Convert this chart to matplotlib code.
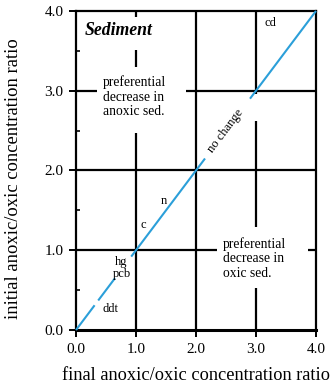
"""
Anoxic/oxic concentration ratio in sediment: initial vs final, with the 1:1 line.
"""

import matplotlib.pyplot as plt

plt.rcParams["font.family"] = ["Liberation Serif", "DejaVu Serif"]

TICKS = [0.0, 1.0, 2.0, 3.0, 4.0]
TICK_LABELS = ["0.0", "1.0", "2.0", "3.0", "4.0"]
MINOR_Y = [0.5, 1.5, 2.5, 3.5]

# grid lines are broken where the labels sit: (level, start, end)
H_SEGMENTS = [(3.0, 0.0, 0.35), (3.0, 1.83, 4.0),
              (2.0, 0.0, 4.0),
              (1.0, 0.0, 2.35), (1.0, 3.87, 4.0)]
V_SEGMENTS = [(1.0, 0.0, 2.47), (1.0, 3.30, 3.51), (1.0, 3.93, 4.0),
              (2.0, 0.0, 4.0),
              (3.0, 0.0, 0.53), (3.0, 1.29, 2.62), (3.0, 2.96, 4.0)]

# 1:1 "no change" line, gaps left for the element labels
DIAG_SEGMENTS = [(0.0, 0.31), (0.37, 0.65), (0.92, 2.15), (2.90, 4.0)]

ELEMENTS = ["ddt", "pcb", "hg", "c", "n", "cd"]
ELEMENT_X = [0.57, 0.77, 0.76, 1.12, 1.46, 3.24]
ELEMENT_Y = [0.26, 0.70, 0.85, 1.32, 1.62, 3.85]

BLUE = "#2b9fd9"


def main():
    fig = plt.figure(figsize=(3.31, 3.91), dpi=100)
    ax = fig.add_axes([0.2296, 0.156, 0.7251, 0.816])
    ax.set_xlim(0, 4)
    ax.set_ylim(0, 4)

    for y, x0, x1 in H_SEGMENTS:
        ax.plot([x0, x1], [y, y], color="black", lw=1.6, solid_capstyle="butt")
    for x, y0, y1 in V_SEGMENTS:
        ax.plot([x, x], [y0, y1], color="black", lw=1.6, solid_capstyle="butt")
    for d0, d1 in DIAG_SEGMENTS:
        ax.plot([d0, d1], [d0, d1], color=BLUE, lw=1.5, solid_capstyle="butt",
                clip_on=False, zorder=3)

    for name, x, y in zip(ELEMENTS, ELEMENT_X, ELEMENT_Y):
        ax.text(x, y, name, fontsize=9, ha="center", va="center")

    ax.text(0.15, 3.76, "Sediment", fontsize=12.8, fontweight="bold",
            style="italic", ha="left", va="center")
    ax.text(0.45, 2.92, "preferential\ndecrease in\nanoxic sed.", fontsize=9.8,
            ha="left", va="center", linespacing=1.15)
    ax.text(2.45, 0.90, "preferential\ndecrease in\noxic sed.", fontsize=9.8,
            ha="left", va="center", linespacing=1.15)
    ax.text(2.5, 2.5, "no change", fontsize=9, rotation=53,
            ha="center", va="center", rotation_mode="anchor")

    for side in ax.spines.values():
        side.set_linewidth(1.6)
    ax.spines["bottom"].set_linewidth(2.2)

    ax.set_xticks(TICKS)
    ax.set_xticklabels(TICK_LABELS)
    ax.set_yticks(TICKS)
    ax.set_yticklabels(TICK_LABELS)
    ax.set_yticks(MINOR_Y, minor=True)
    ax.tick_params(axis="both", which="major", direction="out", length=5,
                   width=1.4, labelsize=11, pad=4)
    ax.tick_params(axis="y", which="minor", direction="in", length=3, width=1.2)

    ax.set_xlabel("final anoxic/oxic concentration ratio", fontsize=13.2, labelpad=8)
    ax.set_ylabel("initial anoxic/oxic concentration ratio", fontsize=13.4)
    ax.yaxis.set_label_coords(-0.225, 0.473)

    fig.savefig("out.png", dpi=100)


if __name__ == "__main__":
    main()
